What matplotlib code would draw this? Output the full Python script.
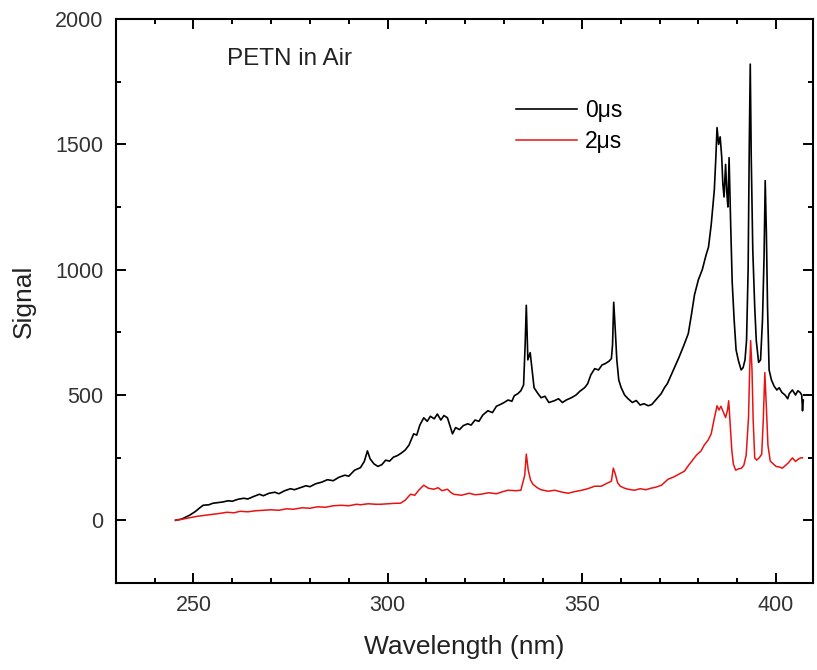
import matplotlib
matplotlib.use("Agg")
import matplotlib.pyplot as plt
from matplotlib.ticker import MultipleLocator

plt.rcParams['font.family'] = ['Liberation Sans', 'DejaVu Sans']

# 0 us spectrum (wavelength nm, signal)
wl_0us = [245.4, 247, 249, 250.5, 251.5, 252.5, 254, 255, 256, 257.5, 259, 260, 261.5, 263, 264,
          265.5, 267, 268, 269.5, 271, 272, 273.5, 275, 276, 277.5, 279, 280, 281.5, 283, 284.5,
          286, 287.5, 289, 290, 291.5, 293, 294, 294.8, 295.5, 296.5, 297.5, 298.5, 299.5, 300.5,
          301.5, 302.5, 303.5, 304.5, 305.5, 306.7, 307.5, 308.3, 309.3, 310.2, 311, 312, 312.8,
          313.7, 314.5, 315.4, 316, 316.7, 317.5, 318.5, 319.5, 320.6, 321.5, 322.5, 323.5, 324.5,
          325.8, 327, 328, 329, 330, 331, 332, 332.6, 333.5, 334.3, 335, 335.4, 335.7, 336.1, 336.7,
          337.2, 337.7, 338.5, 339.5, 340.5, 341.5, 342.9, 344, 345, 346, 347.3, 348.5, 349.5,
          350.7, 351.5, 352.3, 353.3, 354.3, 355.2, 356, 357, 357.6, 357.9, 358.2, 358.6, 359,
          359.5, 360.1, 361, 361.9, 363, 364, 365, 366, 367.1, 368, 369, 370.4, 371.3, 372, 373,
          373.8, 375, 376.3, 377.4, 378.2, 379, 380, 381, 382, 382.6, 383.3, 384.1, 384.5, 384.8,
          385.2, 385.6, 386, 386.3, 386.6, 387, 387.3, 387.6, 387.9, 388.3, 388.7, 389.2, 389.7,
          390.3, 391, 391.5, 392, 392.4, 392.8, 393.1, 393.35, 393.6, 394, 394.5, 394.9, 395.5,
          396, 396.5, 396.9, 397.2, 397.5, 397.8, 398.2, 398.8, 399.5, 400.2, 400.8, 401.5, 402.3,
          403, 403.4, 404.2, 405, 405.6, 406.2, 406.6, 406.8, 407]
sig_0us = [0, 5, 20, 35, 48, 60, 62, 68, 70, 73, 78, 76, 84, 88, 85,
           95, 104, 98, 108, 112, 106, 118, 126, 122, 130, 138, 134, 146, 152, 162,
           158, 172, 180, 176, 200, 210, 235, 277, 245, 225, 215, 222, 240, 236,
           252, 258, 268, 280, 300, 345, 340, 380, 409, 395, 415, 405, 424,
           400, 418, 409, 380, 345, 370, 362, 378, 385, 380, 400, 395, 420,
           437, 430, 455, 462, 470, 480, 475, 497, 505, 517, 540, 700, 858, 640, 669,
           600, 529, 510, 489, 495, 470, 477, 485, 470, 480, 489, 500, 515,
           529, 545, 580, 605, 600, 620, 625, 635, 645, 700, 870, 760, 640,
           560, 530, 500, 485, 470, 478, 460, 465, 457, 462, 480, 505, 530, 545, 580,
           609, 650, 700, 745, 820, 900, 960, 1000, 1060, 1090, 1180, 1318, 1450, 1567,
           1500, 1530, 1450, 1340, 1290, 1420, 1310, 1250, 1447, 1186, 950, 800, 680,
           637, 600, 609, 640, 720, 1000, 1500, 1820, 1450, 1078, 850, 717, 630,
           640, 800, 1050, 1355, 1146, 850, 600, 560, 535, 520, 529, 510, 500,
           485, 505, 520, 500, 517, 510, 500, 437, 480]

# 2 us spectrum
wl_2us = [245.4, 247, 249, 251, 253, 255, 257, 258.6, 260.5, 262, 264, 266, 268, 270, 272, 274,
          275.7, 278, 280, 282, 284, 286, 288, 290, 292, 293, 295, 297, 298.2, 300, 302, 303.3,
          304.5, 305.9, 307, 308, 309.3, 310.5, 311.9, 313, 314, 315.4, 316.2, 317, 319, 321,
          322.5, 324, 326, 328, 330, 331, 333, 334.3, 335.3, 335.7, 336.2, 336.8, 337.4, 338.5,
          339.5, 341.3, 343, 345, 346.5, 348, 350, 351.5, 353.3, 355, 356.5, 357.6, 358.1, 358.6,
          359.2, 359.9, 361, 361.9, 363.5, 365, 366.5, 367.8, 369, 370.5, 372.2, 373.5, 374.5,
          376.4, 377.5, 378.5, 379.5, 380.7, 381.5, 382.5, 383.3, 384, 384.8, 385.3, 385.8, 386.5,
          387, 387.5, 387.8, 388.2, 388.6, 389, 389.6, 390.3, 391.1, 391.7, 392.3, 392.9, 393.2,
          393.45, 393.8, 394.1, 394.5, 395, 395.7, 396.3, 396.7, 397.1, 397.5, 397.9, 398.5,
          399.3, 400, 401, 401.6, 402.5, 403.2, 404.2, 405, 405.8, 406.5, 406.8]
sig_2us = [0, 4, 10, 16, 20, 24, 28, 32, 30, 36, 34, 38, 40, 42, 40, 46,
           44, 50, 48, 54, 52, 58, 60, 58, 64, 62, 66, 64, 64, 66, 68, 68,
           80, 104, 100, 120, 140, 128, 124, 130, 118, 124, 112, 104, 100, 108,
           102, 104, 110, 106, 116, 120, 118, 120, 180, 264, 200, 160, 144, 130,
           122, 116, 120, 112, 108, 114, 120, 126, 136, 136, 148, 156, 208, 185,
           150, 136, 128, 124, 120, 126, 122, 128, 132, 140, 164, 172, 180,
           196, 220, 240, 260, 277, 300, 320, 345, 400, 457, 440, 455, 429,
           410, 440, 477, 380, 280, 224, 200, 205, 208, 220, 260, 409, 600,
           717, 600, 400, 249, 240, 250, 264, 400, 589, 450, 300, 236,
           225, 215, 212, 208, 220, 230, 249, 235, 245, 250, 249]

fig = plt.figure(figsize=(8.17, 6.70), dpi=100)
ax = fig.add_axes([0.1416, 0.1299, 0.8535, 0.8417])

ax.plot(wl_0us, sig_0us, color='black', lw=1.2, label='0\u03bcs')
ax.plot(wl_2us, sig_2us, color='#e81212', lw=1.1, label='2\u03bcs')

ax.set_xlim(230, 409.5)
ax.set_ylim(-250, 2000)
ax.xaxis.set_major_locator(MultipleLocator(50))
ax.xaxis.set_minor_locator(MultipleLocator(10))
ax.yaxis.set_major_locator(MultipleLocator(500))
ax.yaxis.set_minor_locator(MultipleLocator(250))

ax.tick_params(which='both', direction='in', top=True, right=True,
               labeltop=False, labelright=False, width=1.4, colors='black',
               labelcolor='#333333', labelsize=15.5)
ax.tick_params(which='major', length=7.5, pad=9)
ax.tick_params(which='minor', length=3.5)
for sp in ax.spines.values():
    sp.set_linewidth(1.5)

ax.set_xlabel('Wavelength (nm)', fontsize=19, color='#222222', labelpad=13)
ax.set_ylabel('Signal', fontsize=19, color='#222222', labelpad=14)

ax.text(0.160, 0.930, 'PETN in Air', transform=ax.transAxes, fontsize=17.5,
        color='#222222', va='center', ha='left')

ax.legend(loc='upper left', bbox_to_anchor=(0.574, 0.858), frameon=False,
          fontsize=16.5, handlelength=2.65, handletextpad=0.35,
          labelspacing=0.33, borderpad=0, borderaxespad=0)

fig.savefig('out.png', dpi=100)
